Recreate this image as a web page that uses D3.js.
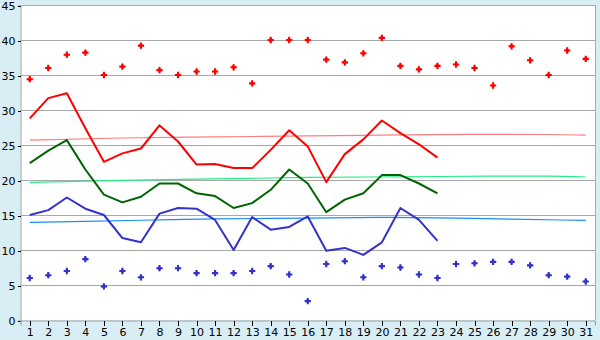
<!DOCTYPE html>
<html><head><meta charset="utf-8">
<script src="https://cdn.jsdelivr.net/npm/d3@7"></script>
<style>
html,body{margin:0;padding:0;background:#d9eef4;}
svg{display:block;}
text{font-family:"DejaVu Sans",Verdana,sans-serif;font-size:11px;fill:#000;}
</style></head>
<body>
<svg id="chart" width="600" height="340"></svg>
<script>
const days = d3.range(1, 32);
const yTicks = [0, 5, 10, 15, 20, 25, 30, 35, 40, 45];

const maxPoints = [34.4, 36.0, 37.9, 38.2, 35.0, 36.2, 39.2, 35.7, 35.0, 35.5,
  35.5, 36.1, 33.8, 40.0, 40.0, 40.0, 37.2, 36.8, 38.1, 40.3,
  36.3, 35.8, 36.3, 36.5, 36.0, 33.5, 39.1, 37.1, 35.0, 38.5, 37.3];
const minPoints = [6.0, 6.4, 7.0, 8.7, 4.8, 7.0, 6.1, 7.4, 7.4, 6.7,
  6.7, 6.7, 7.0, 7.7, 6.5, 2.7, 8.0, 8.4, 6.1, 7.7,
  7.5, 6.5, 6.0, 8.0, 8.1, 8.3, 8.3, 7.8, 6.4, 6.2, 5.5];
const maxLine = [28.8, 31.7, 32.4, 27.4, 22.6, 23.8, 24.5, 27.8, 25.5, 22.2,
  22.3, 21.7, 21.7, 24.3, 27.1, 24.8, 19.7, 23.7, 25.8, 28.5,
  26.7, 25.1, 23.2];
const meanLine = [22.4, 24.2, 25.7, 21.5, 17.9, 16.8, 17.6, 19.5, 19.5, 18.1,
  17.7, 16.0, 16.7, 18.6, 21.5, 19.5, 15.4, 17.2, 18.1, 20.7,
  20.7, 19.5, 18.1];
const minLine = [15.0, 15.7, 17.5, 15.9, 15.0, 11.7, 11.1, 15.2, 16.0, 15.9,
  14.3, 10.0, 14.7, 12.9, 13.3, 14.8, 9.9, 10.3, 9.3, 11.1,
  16.0, 14.3, 11.3];
const maxTrend = [[1, 25.7], [6, 26.0], [11, 26.15], [16, 26.3], [21, 26.45], [26, 26.52], [29, 26.5], [31, 26.4]];
const meanTrend = [[1, 19.67], [6, 19.95], [11, 20.15], [16, 20.38], [21, 20.45], [26, 20.55], [29, 20.55], [31, 20.43]];
const minTrend = [[1, 13.95], [4, 14.1], [7, 14.25], [11, 14.45], [16, 14.55], [20, 14.65], [24, 14.55], [27, 14.4], [31, 14.24]];

const svg = d3.select("#chart");
const L = 20.5, R = 595, T = 5, B = 320;

const x = d3.scalePoint().domain(days).range([L, R]).padding(0.5);
const y = d3.scaleLinear().domain([0, 45]).range([B, T]);

svg.append("rect").attr("x", L).attr("y", T).attr("width", R - L).attr("height", B - T).attr("fill", "#fff");

svg.append("g").selectAll("line").data(yTicks.filter(v => v > 0 && v < 45)).join("line")
  .attr("x1", L).attr("x2", R)
  .attr("y1", d => Math.round(y(d)) + 0.5).attr("y2", d => Math.round(y(d)) + 0.5)
  .attr("stroke", "#a8a8a8").attr("stroke-width", 1).attr("shape-rendering", "crispEdges");

svg.append("path").attr("d", `M${L},${T + 0.5}H${R + 0.5}V${B}`)
  .attr("fill", "none").attr("stroke", "#aaaaaa").attr("shape-rendering", "crispEdges");

const yAxis = svg.append("g").attr("transform", `translate(${L},0.5)`)
  .call(d3.axisLeft(y).tickValues(yTicks).tickSize(3).tickPadding(2));
const xAxis = svg.append("g").attr("transform", `translate(0,${B + 0.5})`)
  .call(d3.axisBottom(x).tickSize(5).tickPadding(3));
[yAxis, xAxis].forEach(g => {
  g.select(".domain").attr("stroke", "#a0a0a0");
  g.selectAll(".tick line").attr("stroke", "#000").attr("shape-rendering", "crispEdges");
  g.selectAll("text").attr("font-family", "DejaVu Sans, Verdana, sans-serif").attr("font-size", 11).attr("fill", "#000");
});

const trendLine = d3.line().x(d => x(d[0])).y(d => y(d[1])).curve(d3.curveMonotoneX);
[[maxTrend, "#ff7f7f"], [meanTrend, "#22ee88"], [minTrend, "#1a8cff"]].forEach(([data, c]) => {
  svg.append("path").datum(data).attr("d", trendLine)
    .attr("fill", "none").attr("stroke", c).attr("stroke-width", 1.2);
});

const line = d3.line().x((d, i) => x(days[i])).y(d => y(d));
[[maxLine, "#ff0000"], [meanLine, "#006400"], [minLine, "#3333cc"]].forEach(([data, c]) => {
  svg.append("path").datum(data).attr("d", line)
    .attr("fill", "none").attr("stroke", c).attr("stroke-width", 2).attr("stroke-linejoin", "round");
});

const cross = d3.symbol().type(d3.symbolCross).size(22);
const diamond = d3.symbol().type(d3.symbolDiamond).size(12);
[[maxPoints, "#ff0000"], [minPoints, "#3333cc"]].forEach(([data, c]) => {
  const g = svg.append("g").selectAll("g").data(data).join("g")
    .attr("transform", (d, i) => `translate(${x(days[i])},${y(d)})`)
    .attr("fill", c);
  g.append("path").attr("d", cross);
  g.append("path").attr("d", diamond);
});
</script>
</body></html>
